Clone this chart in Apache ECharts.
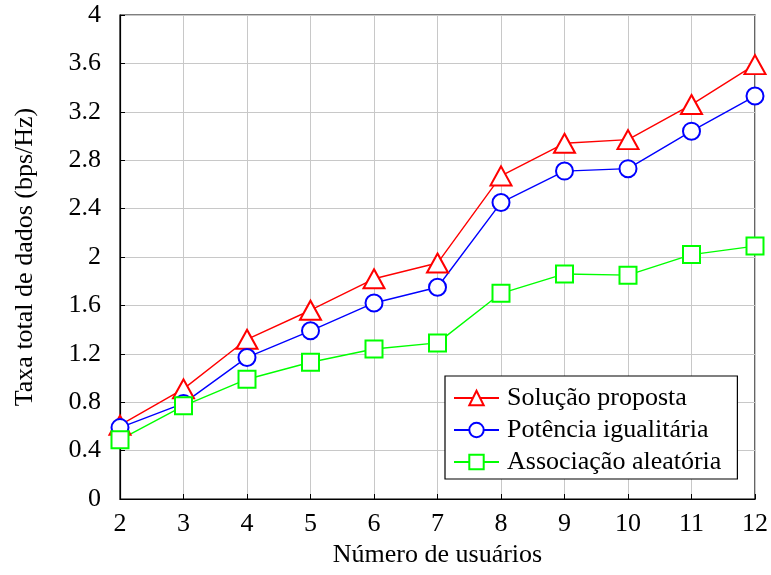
<!DOCTYPE html>
<html><head><meta charset="utf-8">
<script src="https://cdn.jsdelivr.net/npm/echarts@6/dist/echarts.min.js"></script>
<style>html,body{margin:0;padding:0;background:#fff}#c{width:771px;height:575px}</style>
</head><body><div id="c"></div>
<script>
const users = [2,3,4,5,6,7,8,9,10,11,12];
const solucaoProposta = [0.61,0.91,1.32,1.56,1.82,1.95,2.67,2.94,2.97,3.26,3.59];
const potenciaIgualitaria = [0.59,0.79,1.17,1.39,1.62,1.75,2.45,2.71,2.73,3.04,3.33];
const associacaoAleatoria = [0.49,0.77,0.99,1.13,1.24,1.29,1.70,1.86,1.85,2.02,2.09];
const seriesNames = ['Solução proposta','Potência igualitária','Associação aleatória'];
const yTicks = [0,0.4,0.8,1.2,1.6,2,2.4,2.8,3.2,3.6,4];

const pairs = arr => users.map((u,i)=>[u,arr[i]]);
const font = 'Liberation Serif';
const chart = echarts.init(document.getElementById('c'));
function mk(name, data, color, symbol, size){
  return {name, type:'line', data:pairs(data), symbol, symbolSize:size,
    showAllSymbol:true, lineStyle:{color, width:1.4}, itemStyle:{color, borderColor:color, borderWidth:1.4},
    color, z:3};
}
chart.setOption({
  animation:false,
  textStyle:{fontFamily:font},
  grid:{left:120,right:14,top:15,bottom:76,show:true,borderColor:'#000',borderWidth:1.2,backgroundColor:'transparent'},
  legend:{orient:'vertical',left:445,top:376,itemWidth:45,itemHeight:18,itemGap:6,
    padding:[9,16,4,8],backgroundColor:'#fff',borderColor:'#000',borderWidth:1.2,
    textStyle:{fontFamily:font,fontSize:26,color:'#000',padding:[0,0,0,3]},data:seriesNames},
  xAxis:{type:'value',min:2,max:12,interval:1,name:'Número de usuários',nameLocation:'middle',nameGap:41,
    nameTextStyle:{fontFamily:font,fontSize:26,color:'#000'},
    axisLine:{show:true,lineStyle:{color:'#000',width:1.2}},
    axisTick:{show:true,inside:true,length:5,lineStyle:{color:'#000'}},
    axisLabel:{fontFamily:font,fontSize:26,color:'#000',margin:12},
    splitLine:{show:true,lineStyle:{color:'#c8c8c8',width:1}}},
  yAxis:{type:'value',min:0,max:4,interval:0.4,name:'Taxa total de dados (bps/Hz)',nameLocation:'middle',nameGap:82,
    nameTextStyle:{fontFamily:font,fontSize:26,color:'#000'},
    axisLine:{show:true,lineStyle:{color:'#000',width:1.2}},
    axisTick:{show:true,inside:true,length:5,lineStyle:{color:'#000'}},
    axisLabel:{fontFamily:font,fontSize:26,color:'#000',margin:19,formatter:v=>String(Math.round(v*10)/10)},
    splitLine:{show:true,lineStyle:{color:'#c8c8c8',width:1}}},
  series:[
    mk(seriesNames[0], solucaoProposta, '#ff0000', 'emptyTriangle', [21,19]),
    mk(seriesNames[1], potenciaIgualitaria, '#0000ff', 'emptyCircle', 17),
    mk(seriesNames[2], associacaoAleatoria, '#00ff00', 'emptyRect', 17)
  ]
});
</script></body></html>
